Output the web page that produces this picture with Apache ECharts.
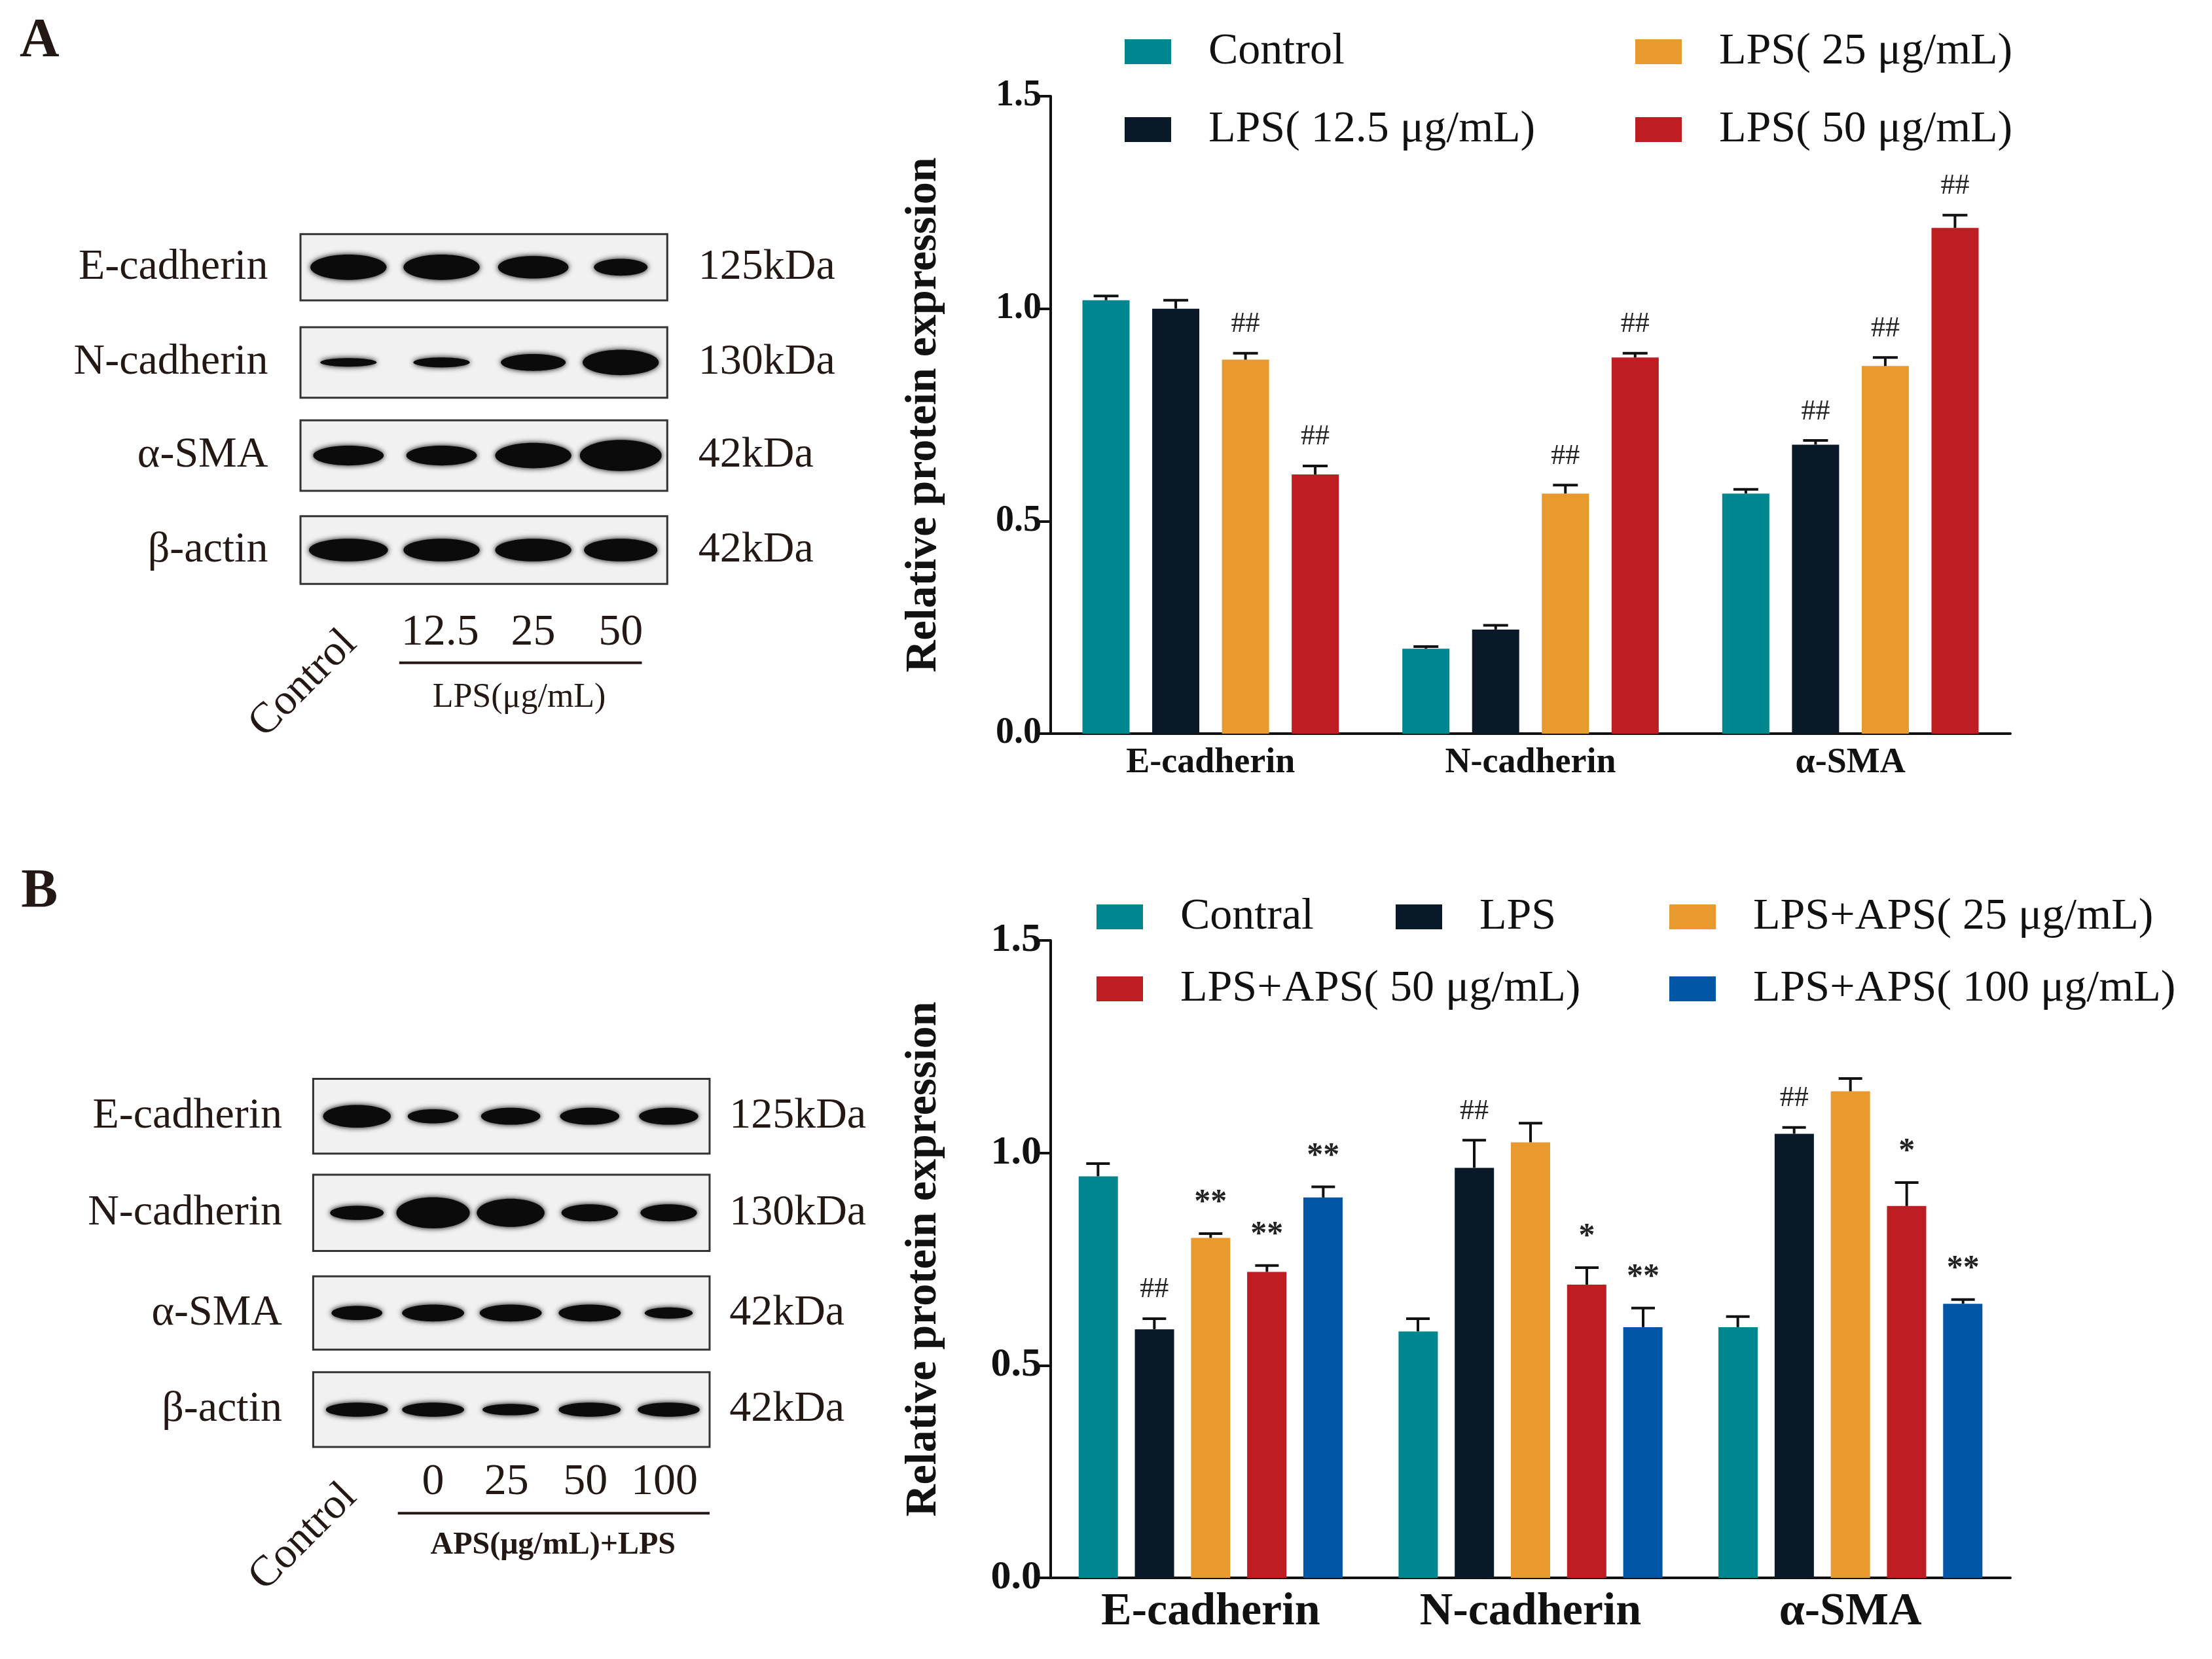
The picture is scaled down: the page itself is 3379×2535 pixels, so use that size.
<!DOCTYPE html>
<html><head><meta charset="utf-8">
<script src="https://cdn.jsdelivr.net/npm/echarts@6/dist/echarts.min.js"></script>
<style>html,body{margin:0;padding:0;background:#fff}#c{width:3379px;height:2535px}</style>
</head><body><div id="c"></div>
<script>
// ---- data ----
const categories = ['E-cadherin', 'N-cadherin', 'α-SMA'];
const namesA = ['Control', 'LPS( 12.5 μg/mL)', 'LPS( 25 μg/mL)', 'LPS( 50 μg/mL)'];
const valuesA = [[1.02, 1.00, 0.88, 0.61], [0.20, 0.245, 0.565, 0.885], [0.565, 0.68, 0.865, 1.19]];
const errorsA = [[0.01, 0.02, 0.015, 0.02], [0.005, 0.01, 0.02, 0.01], [0.01, 0.01, 0.02, 0.03]];
const marksA = [['', '', '##', '##'], ['', '', '##', '##'], ['', '##', '##', '##']];
const namesB = ['Contral', 'LPS', 'LPS+APS( 25 μg/mL)', 'LPS+APS( 50 μg/mL)', 'LPS+APS( 100 μg/mL)'];
const valuesB = [[0.945, 0.585, 0.80, 0.72, 0.895], [0.58, 0.965, 1.025, 0.69, 0.59], [0.59, 1.045, 1.145, 0.875, 0.645]];
const errorsB = [[0.03, 0.025, 0.01, 0.015, 0.025], [0.03, 0.065, 0.045, 0.04, 0.045], [0.025, 0.015, 0.03, 0.055, 0.01]];
const marksB = [['', '##', '**', '**', '**'], ['', '##', '', '*', '**'], ['', '##', '', '*', '**']];
const yTicks = [0, 0.5, 1.0, 1.5];
const blotRowsA = ['E-cadherin', 'N-cadherin', 'α-SMA', 'β-actin'];
const kdaA = ['125kDa', '130kDa', '42kDa', '42kDa'];
const lanesA = ['12.5', '25', '50'];
const lanesB = ['0', '25', '50', '100'];

const colorsA = ['#00868F', '#0A1928', '#E89A2E', '#BE1E22'];
const colorsB = ['#00868F', '#0A1928', '#E89A2E', '#BE1E22', '#0055A5'];
const S = 2.155;
const FONT = '"Liberation Serif", "DejaVu Serif", serif';

const chart = echarts.init(document.getElementById('c'));

function yAxis(gi, labelSize) {
  return {
    gridIndex: gi, type: 'value', min: 0, max: 1.5, interval: 0.5,
    name: 'Relative protein expression', nameLocation: 'middle', nameGap: 160,
    nameTextStyle: {fontFamily: FONT, fontWeight: 'bold', fontSize: 68, color: '#111'},
    axisLine: {show: true, lineStyle: {color: '#111', width: 4}},
    axisTick: {show: true, length: 22, lineStyle: {color: '#111', width: 4}},
    splitLine: {show: false},
    axisLabel: {fontFamily: FONT, fontWeight: 'bold', fontSize: labelSize, color: '#111', margin: 14,
      formatter: v => yTicks.includes(v) ? v.toFixed(1) : ''}
  };
}
function xAxis(gi, size) {
  return {
    gridIndex: gi, type: 'category', data: categories,
    axisLine: {lineStyle: {color: '#111', width: 4}}, axisTick: {show: false},
    axisLabel: {fontFamily: FONT, fontWeight: 'bold', fontSize: size, color: '#111', margin: 18}
  };
}
function errSeries(gi, vals, errs, marks, step, cap) {
  const data = [];
  vals.forEach((row, c) => row.forEach((v, s) => data.push([c, s, v, errs[c][s], marks[c][s]])));
  const n = vals[0].length;
  return {
    type: 'custom', xAxisIndex: gi, yAxisIndex: gi, z: 10, data: data,
    renderItem: (params, api) => {
      const c = api.value(0), s = api.value(1), v = api.value(2), e = api.value(3);
      const mk = data[params.dataIndex][4];
      const base = api.coord([c, v]);
      const top = api.coord([c, v + e]);
      const x = base[0] + (s - (n - 1) / 2) * step;
      const children = [
        {type: 'line', shape: {x1: x, y1: base[1], x2: x, y2: top[1]}, style: {stroke: '#111', lineWidth: 4}},
        {type: 'line', shape: {x1: x - cap / 2, y1: top[1], x2: x + cap / 2, y2: top[1]}, style: {stroke: '#111', lineWidth: 4}}
      ];
      if (mk) children.push({type: 'text', style: {text: mk, x: x, y: top[1] - 22, textAlign: 'center', textVerticalAlign: 'bottom',
        fontFamily: FONT, fontSize: mk === '##' ? 44 : 50, fontWeight: mk === '##' ? 'normal' : 'bold', fill: '#222'}});
      return {type: 'group', children};
    }
  };
}
function legendItem(name, x, y) {
  return {data: [name], left: x, top: y, itemWidth: 71, itemHeight: 38, icon: 'rect', selectedMode: false,
    textStyle: {fontFamily: FONT, fontSize: 68, color: '#111', padding: [0, 0, 0, 52]}};
}

const series = [];
namesA.forEach((nm, i) => series.push({name: nm, type: 'bar', xAxisIndex: 0, yAxisIndex: 0, barWidth: 72, barGap: '48%',
  itemStyle: {color: colorsA[i]}, data: valuesA.map(r => r[i])}));
namesB.forEach((nm, i) => series.push({name: nm, type: 'bar', xAxisIndex: 1, yAxisIndex: 1, barWidth: 60, barGap: '43%',
  itemStyle: {color: colorsB[i]}, data: valuesB.map(r => r[i])}));
series.push(errSeries(0, valuesA, errorsA, marksA, 106.5, 38));
series.push(errSeries(1, valuesB, errorsB, marksB, 86, 36));

// ---- western blot decoration ----
const g = [];
function txt(t, x, y, size, align, opts) {
  g.push(Object.assign({type: 'text', x: x * S, y: y * S, style: {text: t, fontFamily: FONT, fontSize: size, fill: '#231815',
    textAlign: align, textVerticalAlign: 'middle', fontWeight: (opts && opts.bold) ? 'bold' : 'normal'}},
    opts && opts.rot ? {rotation: opts.rot} : {}));
}
function blot(x0, x1, rows, lanes, bands, labels, kda, labelX, kdaX) {
  rows.forEach((r, ri) => {
    g.push({type: 'rect', shape: {x: x0 * S, y: r[0] * S, width: (x1 - x0) * S, height: (r[1] - r[0]) * S},
      style: {fill: '#f1f1f1', stroke: '#333', lineWidth: 3}});
    const cy = (r[0] + r[1]) / 2;
    lanes.forEach((lx, li) => {
      const b = bands[ri][li];
      g.push({type: 'ellipse', shape: {cx: lx * S, cy: cy * S, rx: b[0] * S, ry: b[1] * S},
        style: {fill: '#0b0b0b', shadowBlur: 8, shadowColor: '#000'}});
    });
    txt(labels[ri], labelX, cy, 66, 'right');
    txt(kda[ri], kdaX, cy, 66, 'left');
  });
}
blot(213, 473, [[166, 213], [232, 282], [298, 348], [366, 414]], [247, 313, 378, 440],
  [[[27, 9], [27, 9], [25, 8], [19, 6]], [[20, 3], [20, 3.5], [23, 6], [27, 9]], [[25, 7], [25, 7], [27, 9], [29, 11]], [[28, 8], [27, 8], [27, 8], [26, 8]]],
  blotRowsA, kdaA, 190, 495);
txt('A', 28, 30, 84, 'center', {bold: true});
txt('Control', 215, 485, 66, 'center', {rot: Math.PI / 4});
lanesA.forEach((t, i) => txt(t, [312, 378, 440][i], 449, 68, 'center'));
g.push({type: 'line', shape: {x1: 283 * S, y1: 470 * S, x2: 455 * S, y2: 470 * S}, style: {stroke: '#231815', lineWidth: 4}});
txt('LPS(μg/mL)', 368, 495, 52, 'center');

blot(222, 503, [[765, 818], [833, 887], [905, 957], [973, 1026]], [253, 307, 362, 418, 474],
  [[[24, 8], [18, 5], [21, 6], [21, 6], [21, 6]], [[19, 5], [26, 11], [24, 10], [20, 6], [20, 6]], [[18, 5], [22, 6], [22, 6], [22, 6], [17, 4]], [[22, 5], [22, 5], [20, 4], [22, 5], [22, 5]]],
  blotRowsA, kdaA, 200, 517);
txt('B', 28, 633, 84, 'center', {bold: true});
txt('Control', 215, 1090, 66, 'center', {rot: Math.PI / 4});
lanesB.forEach((t, i) => txt(t, [307, 359, 415, 471][i], 1051, 68, 'center'));
g.push({type: 'line', shape: {x1: 282 * S, y1: 1073 * S, x2: 503 * S, y2: 1073 * S}, style: {stroke: '#231815', lineWidth: 4}});
txt('APS(μg/mL)+LPS', 392, 1096, 48, 'center', {bold: true});

chart.setOption({
  animation: false,
  backgroundColor: '#fff',
  grid: [{left: 1605, top: 147, width: 1466, height: 974}, {left: 1605, top: 1437, width: 1466, height: 974}],
  xAxis: [xAxis(0, 54), xAxis(1, 70)],
  yAxis: [yAxis(0, 56), yAxis(1, 62)],
  legend: [
    legendItem(namesA[0], 1713, 40), legendItem(namesA[2], 2493, 40),
    legendItem(namesA[1], 1713, 159), legendItem(namesA[3], 2493, 159),
    legendItem(namesB[0], 1670, 1362), legendItem(namesB[1], 2127, 1362), legendItem(namesB[2], 2545, 1362),
    legendItem(namesB[3], 1670, 1472), legendItem(namesB[4], 2545, 1472)
  ],
  series: series,
  graphic: g
});
</script></body></html>
